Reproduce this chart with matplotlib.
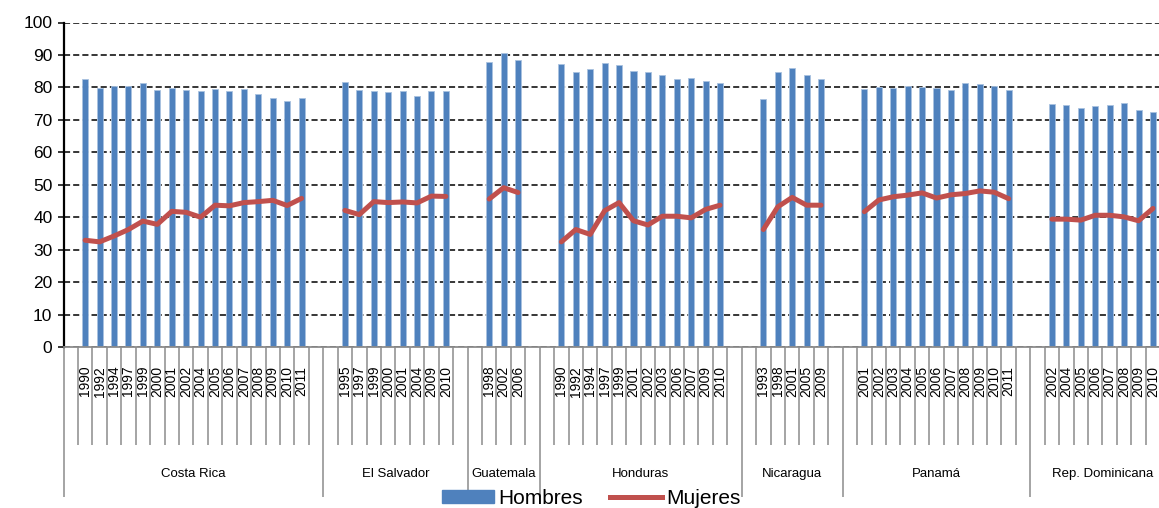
import matplotlib
matplotlib.use("Agg")
import matplotlib.pyplot as plt
from matplotlib.lines import Line2D
from matplotlib.patches import Patch
import matplotlib.transforms as mtransforms

plt.rcParams['font.family'] = ['Liberation Sans', 'DejaVu Sans']

countries = ["Costa Rica", "El Salvador", "Guatemala", "Honduras",
             "Nicaragua", "Panamá", "Rep. Dominicana"]

years_cr = ["1990", "1992", "1994", "1997", "1999", "2000", "2001", "2002",
            "2004", "2005", "2006", "2007", "2008", "2009", "2010", "2011"]
hombres_cr = [82.5, 79.9, 80.5, 80.5, 81.5, 79.1, 79.7, 79.1,
              78.8, 79.5, 79.0, 79.5, 78.1, 76.7, 75.8, 76.7]
mujeres_cr = [32.9, 32.4, 34.2, 36.2, 38.8, 37.8, 41.8, 41.5,
              40.0, 43.7, 43.5, 44.5, 44.8, 45.2, 43.6, 45.8]

years_sv = ["1995", "1997", "1999", "2000", "2001", "2004", "2009", "2010"]
hombres_sv = [81.7, 79.3, 78.8, 78.6, 79.0, 77.3, 79.0, 78.8]
mujeres_sv = [42.1, 40.8, 44.8, 44.5, 44.7, 44.4, 46.5, 46.4]

years_gt = ["1998", "2002", "2006"]
hombres_gt = [87.9, 90.7, 88.3]
mujeres_gt = [45.6, 49.1, 47.6]

years_hn = ["1990", "1992", "1994", "1997", "1999", "2001", "2002", "2003",
            "2006", "2007", "2009", "2010"]
hombres_hn = [87.1, 84.8, 85.7, 87.6, 87.0, 85.1, 84.8, 83.7,
              82.5, 83.0, 82.1, 81.5]
mujeres_hn = [32.4, 36.2, 34.7, 42.0, 44.5, 38.9, 37.6, 40.3,
              40.3, 39.8, 42.4, 43.7]

years_ni = ["1993", "1998", "2001", "2005", "2009"]
hombres_ni = [76.5, 84.8, 86.1, 83.9, 82.7]
mujeres_ni = [36.2, 43.2, 46.1, 43.7, 43.7]

years_pa = ["2001", "2002", "2003", "2004", "2005", "2006", "2007", "2008",
            "2009", "2010", "2011"]
hombres_pa = [79.5, 80.1, 79.7, 80.5, 80.1, 79.9, 79.1, 81.5, 80.9, 80.3, 79.1]
mujeres_pa = [41.7, 45.3, 46.3, 46.8, 47.5, 45.9, 46.9, 47.3, 48.1, 47.7, 45.7]

years_do = ["2002", "2004", "2005", "2006", "2007", "2008", "2009", "2010"]
hombres_do = [75.0, 74.7, 73.7, 74.3, 74.5, 75.1, 72.9, 72.3]
mujeres_do = [39.4, 39.4, 39.1, 40.6, 40.6, 40.1, 38.9, 42.7]

groups = [
    (years_cr, hombres_cr, mujeres_cr),
    (years_sv, hombres_sv, mujeres_sv),
    (years_gt, hombres_gt, mujeres_gt),
    (years_hn, hombres_hn, mujeres_hn),
    (years_ni, hombres_ni, mujeres_ni),
    (years_pa, hombres_pa, mujeres_pa),
    (years_do, hombres_do, mujeres_do),
]

BLUE = "#4F81BD"
RED = "#C0504D"
TICKGRAY = "#8c8c8c"

W, H = 1159, 508
fig = plt.figure(figsize=(W / 100, H / 100), dpi=100)

n_total = sum(len(g[0]) + 2 for g in groups)
cat_px = 14.43
left_px, bottom_px, top_px = 63.5, 347.0, 22.5
ax = fig.add_axes([left_px / W, (H - bottom_px) / H,
                   n_total * cat_px / W, (bottom_px - top_px) / H])

boundaries = []
group_edges = [0]
pos = 0
label_tf = mtransforms.blended_transform_factory(ax.transData, ax.transAxes)
for cname, (yrs, hom, muj) in zip(countries, groups):
    start = pos
    boundaries.append(pos)
    pos += 1
    xs = []
    for yr in yrs:
        boundaries.append(pos)
        xs.append(pos + 0.5)
        pos += 1
    boundaries.append(pos)
    pos += 1
    group_edges.append(pos)
    ax.bar(xs, hom, width=0.42, color=BLUE, edgecolor="#a9c2e0",
           linewidth=0.6, zorder=2)
    ax.plot(xs, muj, color=RED, lw=3.6, solid_joinstyle="round",
            solid_capstyle="round", zorder=3)
    for x, yr in zip(xs, yrs):
        ax.text(x, -0.058, yr, rotation=90, ha="center", va="top",
                fontsize=10, transform=label_tf, clip_on=False)
    ax.text((start + pos) / 2, -0.39, cname, ha="center", va="center",
            fontsize=9.5, transform=label_tf, clip_on=False)
boundaries.append(pos)

ax.set_xlim(0, n_total)
ax.set_ylim(0, 100)
ax.set_yticks(range(0, 101, 10))
ax.tick_params(axis="y", labelsize=12.5, length=4, width=1.1, color="black",
               pad=4)

ax.set_xticks(sorted(set(group_edges)))
ax.set_xticks(sorted(set(boundaries)), minor=True)
ax.tick_params(axis="x", which="major", length=108, width=1.1,
               color=TICKGRAY, labelbottom=False)
ax.tick_params(axis="x", which="minor", length=70.5, width=1.1,
               color=TICKGRAY, labelbottom=False)

ax.yaxis.grid(True, color="black", linestyle=(0, (4, 2)), linewidth=1.1,
              zorder=0)
ax.set_axisbelow(True)
for s in ("top", "right"):
    ax.spines[s].set_visible(False)
ax.spines["left"].set_linewidth(1.6)
ax.spines["left"].set_color("black")
ax.spines["bottom"].set_linewidth(1.3)
ax.spines["bottom"].set_color(TICKGRAY)

handles = [Patch(facecolor=BLUE, edgecolor=BLUE),
           Line2D([], [], color=RED, lw=3.6)]
fig.legend(handles, ["Hombres", "Mujeres"], loc="center", ncol=2,
           bbox_to_anchor=(591 / W, 10 / H), frameon=False, fontsize=15,
           handlelength=2.5, handleheight=0.6, handletextpad=0.2,
           columnspacing=1.3, borderaxespad=0, borderpad=0)

fig.savefig("out.png", dpi=100)
